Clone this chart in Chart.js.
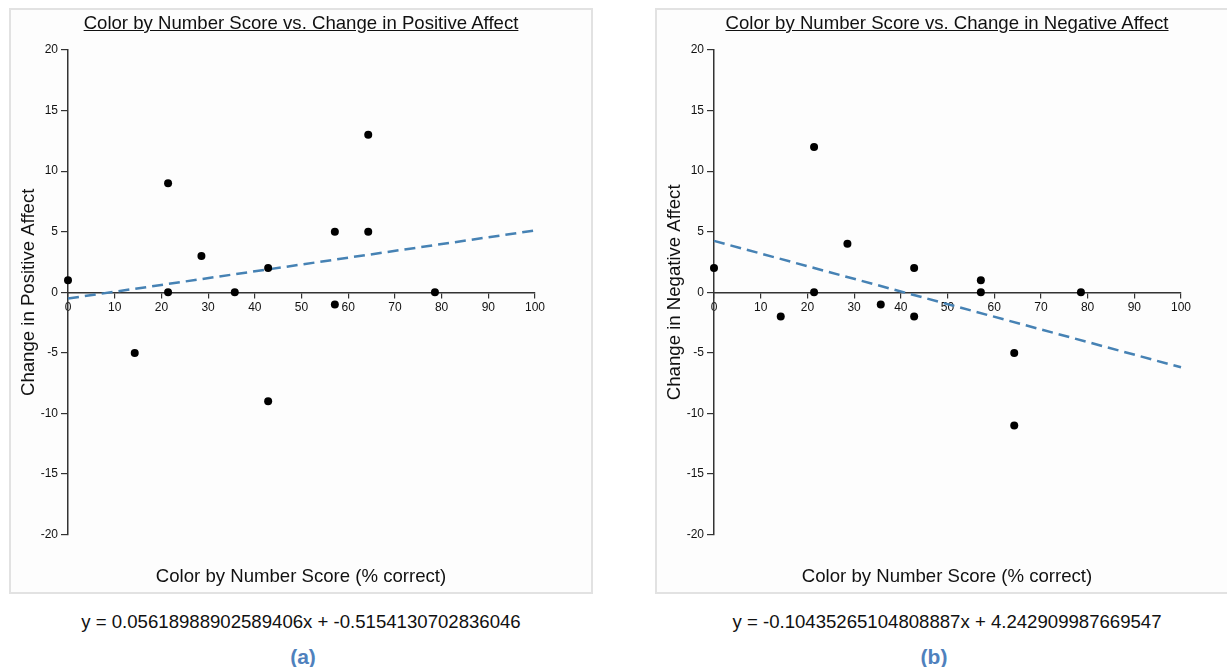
<!DOCTYPE html>
<html>
  <head>
    <script src="https://cdn.jsdelivr.net/npm/chart.js@4.4.1/dist/chart.umd.min.js"></script>
    <style>
      body { margin: 0; background: #fff; font-family: "Liberation Sans", Arial, sans-serif; }
      .frame { position: absolute; top: 8px; width: 584px; height: 586px; box-sizing: border-box;
               border: 2px solid #e2e2e2; background: #fdfdfd; }
      canvas { position: absolute; top: 8px; }
      .txt { position: absolute; transform: translateX(-50%); white-space: nowrap;
             font-size: 18.6px; line-height: 22px; color: #111; }
      .title { text-decoration: underline; }
      .cap { font-weight: bold; font-size: 21px; line-height: 24px; color: #4f81bd; }
    </style>
  </head>
  <body>
    <div class="frame" style="left:9px"></div>
    <div class="frame" style="left:655px"></div>
    <canvas id="chart-pos" width="584" height="586" style="left:9px"></canvas>
    <canvas id="chart-neg" width="584" height="586" style="left:655px"></canvas>

    <div class="txt title" style="left:301px; top:12px">Color by Number Score vs. Change in Positive Affect</div>
    <div class="txt" style="left:301px; top:565px">Color by Number Score (% correct)</div>
    <div class="txt" style="left:301px; top:611px">y = 0.05618988902589406x + -0.5154130702836046</div>
    <div class="txt cap" style="left:303px; top:645px">(a)</div>

    <div class="txt title" style="left:947px; top:12px">Color by Number Score vs. Change in Negative Affect</div>
    <div class="txt" style="left:947px; top:565px">Color by Number Score (% correct)</div>
    <div class="txt" style="left:947px; top:611px">y = -0.10435265104808887x + 4.242909987669547</div>
    <div class="txt cap" style="left:934px; top:645px">(b)</div>

    <script>
      // INPUT DATA

      const scores = [0, 14.29, 21.43, 21.43, 28.57, 35.71, 42.86, 42.86, 57.14, 57.14, 64.29, 64.29, 78.57];
      const posChange = [1, -5, 9, 0, 3, 0, 2, -9, 5, -1, 13, 5, 0];
      const negChange = [2, -2, 12, 0, 4, -1, 2, -2, 1, 0, -5, -11, 0];

      // fitted lines, read at x = 0 and x = 100
      const fitX = [0, 100];
      const posFitY = [-0.515, 5.104];
      const negFitY = [4.243, -6.192];

      const yTicks = [-20, -15, -10, -5, 0, 5, 10, 15, 20];
      const xTicks = [0, 10, 20, 30, 40, 50, 60, 70, 80, 90, 100];

      // PLOTTING

      function pairs(xs, ys) {
        return xs.map(function (x, i) {
          return { x: x, y: ys[i] };
        });
      }

      const tickFont = { size: 12, family: "Liberation Sans" };

      function makeChart(id, ys, fitY, yLabel) {
        const ctx = document.getElementById(id).getContext("2d");
        return new Chart(ctx, {
          type: "scatter",
          data: {
            datasets: [
              {
                data: pairs(scores, ys),
                backgroundColor: "#000",
                borderWidth: 0,
                pointRadius: 4,
                clip: false,
                order: 1,
              },
              {
                type: "line",
                data: pairs(fitX, fitY),
                borderColor: "#4682b4",
                borderWidth: 2.5,
                borderDash: [11, 6],
                pointRadius: 0,
                fill: false,
                clip: false,
                order: 2,
              },
            ],
          },
          options: {
            responsive: false,
            animation: false,
            layout: { padding: { left: 0, top: 42, right: 58, bottom: 59.4 } },
            plugins: { legend: { display: false }, tooltip: { enabled: false } },
            scales: {
              x: {
                type: "linear",
                position: { y: 0 },
                min: 0,
                max: 100,
                afterBuildTicks: function (scale) {
                  scale.ticks = xTicks.map(function (v) { return { value: v }; });
                },
                ticks: { color: "#111", font: tickFont, padding: 3, maxRotation: 0 },
                grid: { display: true, drawOnChartArea: false, drawTicks: true, tickLength: 5, color: "#333", lineWidth: 1.2 },
                border: { display: true, color: "#333", width: 1.5 },
              },
              y: {
                type: "linear",
                position: "left",
                min: -20,
                max: 20,
                afterBuildTicks: function (scale) {
                  scale.ticks = yTicks.map(function (v) { return { value: v }; });
                },
                afterFit: function (scale) {
                  scale.width = 59;
                },
                ticks: { color: "#111", font: tickFont, padding: 3 },
                grid: { display: true, drawOnChartArea: false, drawTicks: true, tickLength: 7, color: "#333", lineWidth: 1.2 },
                border: { display: true, color: "#333", width: 1.5 },
                title: {
                  display: true,
                  text: yLabel,
                  color: "#111",
                  font: { size: 18.6, family: "Liberation Sans" },
                  padding: { top: 8.4, bottom: 4 },
                },
              },
            },
          },
        });
      }

      makeChart("chart-pos", posChange, posFitY, "Change in Positive Affect");
      makeChart("chart-neg", negChange, negFitY, "Change in Negative Affect");
    </script>
  </body>
</html>
